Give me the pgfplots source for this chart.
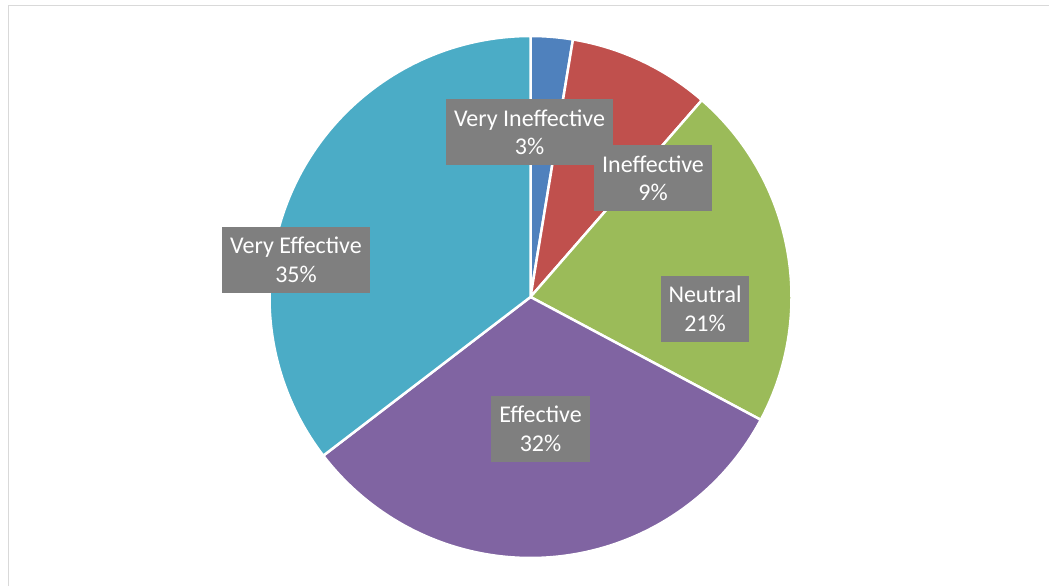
\documentclass[border=0pt]{standalone}
\usepackage{fontspec}
\setmainfont{Carlito}
\usepackage{pgfplots}
\pgfplotsset{compat=1.18}
\definecolor{cVI}{HTML}{4F81BD}
\definecolor{cI}{HTML}{C0504D}
\definecolor{cN}{HTML}{9BBB59}
\definecolor{cE}{HTML}{8064A2}
\definecolor{cVE}{HTML}{4BACC6}
\definecolor{lblbg}{HTML}{7F7F7F}
\definecolor{frame}{HTML}{D9D9D9}

% share of responses (%)
\def\nVI{2.6}
\def\nI{8.8}
\def\nN{21.4}
\def\nE{31.8}
\def\nVE{35.4}
\pgfmathsetmacro{\tot}{\nVI+\nI+\nN+\nE+\nVE}
\pgfmathsetmacro{\aA}{90}
\pgfmathsetmacro{\aB}{\aA-360*\nVI/\tot}
\pgfmathsetmacro{\aC}{\aB-360*\nI/\tot}
\pgfmathsetmacro{\aD}{\aC-360*\nN/\tot}
\pgfmathsetmacro{\aE}{\aD-360*\nE/\tot}
\pgfmathsetmacro{\aF}{\aE-360*\nVE/\tot}

\begin{document}
\begin{tikzpicture}
\begin{axis}[
  hide axis, scale only axis,
  width=1050pt, height=586pt,
  xmin=0, xmax=1050, ymin=0, ymax=586,
  clip=false,
]
\path (axis cs:0,0) rectangle (axis cs:1050,586);
\def\cx{530.5}
\def\cy{289}
\def\R{261}
\tikzset{wedge/.style={draw=white, line width=2.5pt, line join=round}}
\filldraw[wedge, fill=cVI] (axis cs:\cx,\cy) -- ++(\aA:\R pt) arc[start angle=\aA, end angle=\aB, radius=\R pt] -- cycle;
\filldraw[wedge, fill=cI]  (axis cs:\cx,\cy) -- ++(\aB:\R pt) arc[start angle=\aB, end angle=\aC, radius=\R pt] -- cycle;
\filldraw[wedge, fill=cN]  (axis cs:\cx,\cy) -- ++(\aC:\R pt) arc[start angle=\aC, end angle=\aD, radius=\R pt] -- cycle;
\filldraw[wedge, fill=cE]  (axis cs:\cx,\cy) -- ++(\aD:\R pt) arc[start angle=\aD, end angle=\aE, radius=\R pt] -- cycle;
\filldraw[wedge, fill=cVE] (axis cs:\cx,\cy) -- ++(\aE:\R pt) arc[start angle=\aE, end angle=\aF, radius=\R pt] -- cycle;

\draw[frame, line width=1.3pt] (axis cs:8.5,0) -- (axis cs:8.5,580.5) -- (axis cs:1049,580.5);

\tikzset{lbl/.style={fill=lblbg, text=white, align=center, inner xsep=8pt,
  minimum height=66pt, font=\fontsize{24}{28.5}\selectfont}}
\node[lbl] at (axis cs:529.5,453.5) {Very Ineffective\\3\%};
\node[lbl] at (axis cs:653,407.5) {Ineffective\\9\%};
\node[lbl] at (axis cs:705,277) {Neutral\\21\%};
\node[lbl] at (axis cs:540.5,157) {Effective\\32\%};
\node[lbl] at (axis cs:296,326) {Very Effective\\35\%};
\end{axis}
\end{tikzpicture}
\end{document}
